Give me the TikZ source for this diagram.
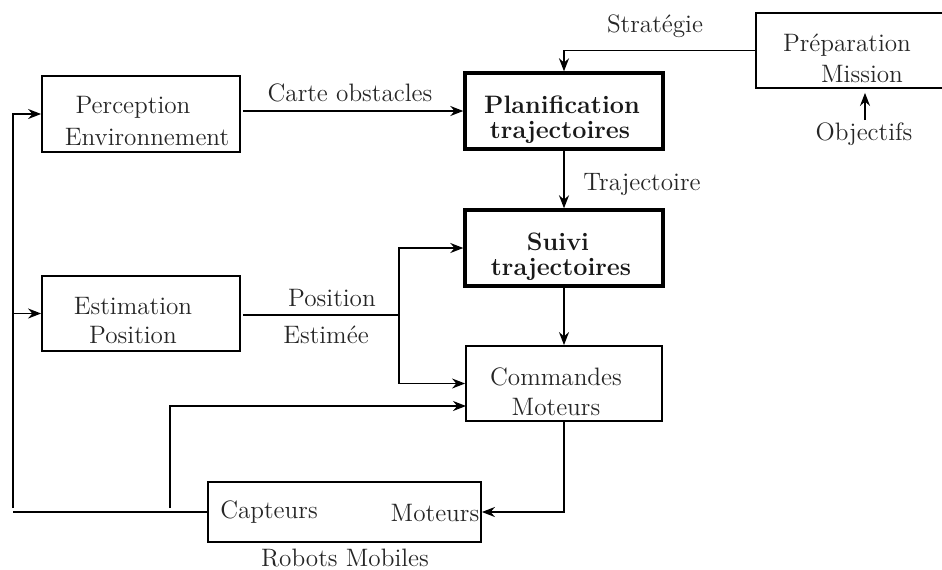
\documentclass[tikz,border=0pt]{standalone}
\usetikzlibrary{arrows.meta}
\begin{document}
\begin{tikzpicture}[x=0.5pt,y=-0.5pt,
  box/.style={draw, line width=0.9pt, inner sep=0pt},
  tbox/.style={draw, line width=1.7pt, inner sep=0pt},
  txt/.style={anchor=base, inner sep=0pt, font=\fontsize{12.6}{15}\selectfont, text=black!85},
  btxt/.style={anchor=base, inner sep=0pt, font=\fontsize{12.6}{15}\selectfont\bfseries, text=black!90},
  arr/.style={-{Stealth[length=6.5pt,width=5pt]}, line width=0.8pt},
  ln/.style={line width=0.8pt}]
\useasboundingbox (0,0) rectangle (942,569);
% boxes
\node[box, minimum width=99pt, minimum height=38pt] (percep) at (141,114) {};
\node[tbox, minimum width=99pt, minimum height=38pt] (plan) at (564,111) {};
\node[box, minimum width=96pt, minimum height=37.5pt] (prep) at (852,50.5) {};
\node[tbox, minimum width=99pt, minimum height=38pt] (suivi) at (564,248) {};
\node[box, minimum width=99pt, minimum height=37.5pt] (estim) at (141,313.5) {};
\node[box, minimum width=98pt, minimum height=37.5pt] (cmd) at (564,383.5) {};
\node[box, minimum width=136.5pt, minimum height=30pt] (robots) at (344.5,512) {};
% texts in boxes
\node[txt] (tpercep1) at (133,113) {Perception};
\node[txt] (tpercep2) at (147,145) {Environnement};
\node[btxt] (tplan1) at (562,113) {Planification};
\node[btxt] (tplan2) at (560,138) {trajectoires};
\node[txt] (tprep1) at (847,51) {Préparation};
\node[txt] (tprep2) at (862,82) {Mission};
\node[btxt] (tsuivi1) at (558,250) {Suivi};
\node[btxt] (tsuivi2) at (561,275) {trajectoires};
\node[txt] (testim1) at (133,314) {Estimation};
\node[txt] (testim2) at (133,343) {Position};
\node[txt] (tcmd1) at (556,385) {Commandes};
\node[txt] (tcmd2) at (556,415) {Moteurs};
\node[txt] (tcapt) at (269,518) {Capteurs};
\node[txt] (tmot) at (435,521) {Moteurs};
\node[txt] (trobots) at (345,566) {Robots Mobiles};
% labels
\node[txt] (lcarte) at (350,101) {Carte obstacles};
\node[txt] (lstrat) at (655,32) {Stratégie};
\node[txt] (lobj) at (864,140) {Objectifs};
\node[txt] (ltraj) at (642,190) {Trajectoire};
\node[txt] (lpos) at (332,306) {Position};
\node[txt] (lest) at (326,343) {Estimée};
% coordinates
\coordinate (j) at (399,315);
\coordinate (fb) at (13,512);
\coordinate (fbtop) at (13,508);
\coordinate (s) at (170,508);
\coordinate (c2) at (466,406);
\coordinate (objtop) at (865,120);
% connectors
\draw[arr] ([xshift=1pt]percep.east |- plan.west) -- (plan.west);
\draw[arr] (prep.west) -| (plan.north);
\draw[arr] (objtop) -- ([yshift=-2pt]objtop |- prep.south);
\draw[arr] (plan.south) -- (suivi.north);
\draw[ln] ([xshift=1pt]estim.east |- j) -- (j);
\draw[arr] (j) |- (suivi.west);
\draw[arr] (j) |- (cmd.west);
\draw[arr] (suivi.south) -- (cmd.north);
\draw[arr] (cmd.south) |- (robots.east);
\draw[ln] (robots.west) -- (fb);
\draw[arr] (fbtop) |- (percep.west);
\draw[arr] (fbtop |- estim.west) -- (estim.west);
\draw[arr] (s) |- (c2);
\end{tikzpicture}
\end{document}
